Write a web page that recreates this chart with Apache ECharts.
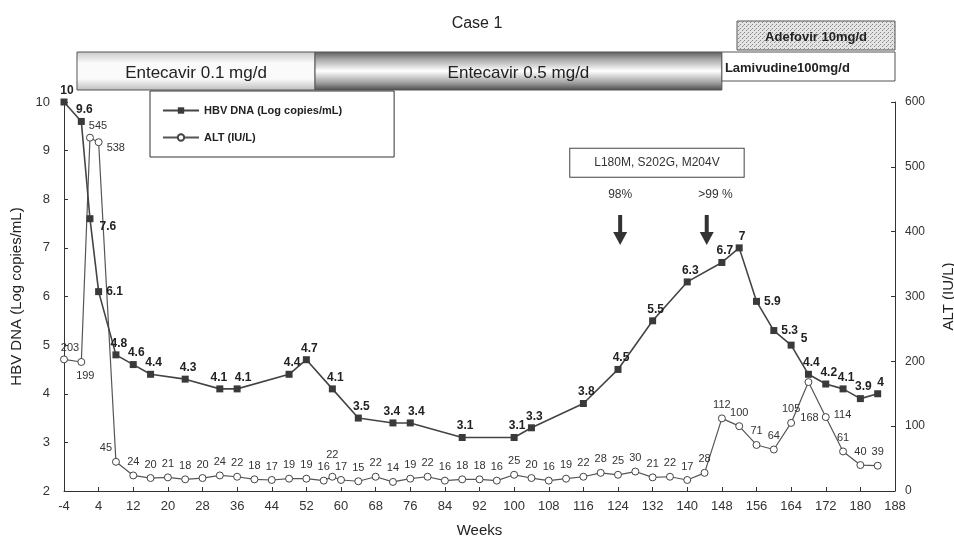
<!DOCTYPE html>
<html><head><meta charset="utf-8">
<script src="https://cdn.jsdelivr.net/npm/echarts@6/dist/echarts.min.js"></script>
<style>html,body{margin:0;padding:0;background:#fff}#c{width:954px;height:541px}</style>
</head><body><div id="c"></div>
<script>
// ---- data ----
const hbvWeeks  = [-4,0,2,4,8,12,16,24,32,36,48,52,58,64,72,76,88,100,104,116,124,132,140,148,152,156,160,164,168,172,176,180,184];
const hbvValues = [10,9.6,7.6,6.1,4.8,4.6,4.4,4.3,4.1,4.1,4.4,4.7,4.1,3.5,3.4,3.4,3.1,3.1,3.3,3.8,4.5,5.5,6.3,6.7,7,5.9,5.3,5,4.4,4.2,4.1,3.9,4];
const altWeeks  = [-4,0,2,4,8,12,16,20,24,28,32,36,40,44,48,52,56,58,60,64,68,72,76,80,84,88,92,96,100,104,108,112,116,120,124,128,132,136,140,144,148,152,156,160,164,168,172,176,180,184];
const altValues = [203,199,545,538,45,24,20,21,18,20,24,22,18,17,19,19,16,22,17,15,22,14,19,22,16,18,18,16,25,20,16,19,22,28,25,30,21,22,17,28,112,100,71,64,105,168,114,61,40,39];
const xTicks = { min: -4, max: 188, step: 8 };
const leftTicks = { min: 2, max: 10, step: 1 };
const rightTicks = { min: 0, max: 600, step: 100 };
const treatNames = ['Entecavir 0.1 mg/d', 'Entecavir 0.5 mg/d', 'Lamivudine100mg/d', 'Adefovir 10mg/d'];
const treatStart = [-1, 54, 148, 151.5];
const treatEnd   = [54, 148, 188, 188];
const mutationText = 'L180M, S202G, M204V';
const arrowWeeks = [124.5, 144.5];
const arrowLabels = ['98%', '>99 %'];
const seriesNames = ['HBV DNA (Log copies/mL)', 'ALT (IU/L)'];

// ---- styles ----
const SANS = "'Liberation Sans',Arial,sans-serif";
const hbvLabelOverrides = {
  2: { position: 'right', offset: [2, 8] },
  3: { position: 'right', offset: [0, 0] },
  8: { position: 'top', offset: [-1, 2] },
  9: { position: 'top', offset: [6, 2] },
  14: { position: 'top', offset: [-1, 2] },
  15: { position: 'top', offset: [6, 2] },
  25: { position: 'right', offset: [0, 0] },
  26: { position: 'right', offset: [0, 0] },
  27: { position: 'right', offset: [2, -6] }
};
const altLabelOverrides = {
  0: { position: 'top', offset: [6, 2] },
  1: { position: 'bottom', offset: [4, 0] },
  2: { position: 'top', offset: [8, 2] },
  3: { position: 'right', offset: [0, 6] },
  4: { position: 'top', offset: [-10, 0] },
  17: { position: 'top', offset: [0, -8] },
  45: { position: 'bottom', offset: [1, 22] },
  46: { position: 'right', offset: [0, -2] }
};

const pc = document.createElement('canvas'); pc.width = 4; pc.height = 4;
const g = pc.getContext('2d');
g.fillStyle = '#e4e4e4'; g.fillRect(0, 0, 4, 4);
g.fillStyle = '#8a8a8a'; g.fillRect(0, 0, 1, 1); g.fillRect(2, 2, 1, 1);
g.fillStyle = '#b0b0b0'; g.fillRect(3, 1, 1, 1);

const treatStyle = [
  { band: [32, 70], fill: { type: 'linear', x: 0, y: 0, x2: 0, y2: 1, colorStops: [
      { offset: 0, color: '#c8c8c8' }, { offset: 0.3, color: '#fafafa' }, { offset: 0.7, color: '#fafafa' }, { offset: 1, color: '#bdbdbd' }] },
    font: '17px ' + SANS, align: 'center' },
  { band: [32, 70], fill: { type: 'linear', x: 0, y: 0, x2: 0, y2: 1, colorStops: [
      { offset: 0, color: '#5a5a5a' }, { offset: 0.2, color: '#a8a8a8' }, { offset: 0.5, color: '#ffffff' }, { offset: 0.8, color: '#a0a0a0' }, { offset: 1, color: '#4a4a4a' }] },
    font: '17px ' + SANS, align: 'center' },
  { band: [32, 61], fill: '#ffffff', font: 'bold 13px ' + SANS, align: 'left' },
  { band: [1, 30], fill: { image: pc, repeat: 'repeat' }, font: 'bold 13px ' + SANS, align: 'center' }
];

function renderTreatment(params, api) {
  const i = params.dataIndex;
  const st = treatStyle[i];
  const p0 = api.coord([api.value(0), st.band[0]]);
  const p1 = api.coord([api.value(1), st.band[1]]);
  const x = p0[0], y = p0[1], w = p1[0] - p0[0], h = p1[1] - p0[1];
  const tx = st.align === 'center' ? x + w / 2 : x + 3;
  return {
    type: 'group',
    children: [
      { type: 'rect', shape: { x: x, y: y, width: w, height: h },
        style: { fill: st.fill, stroke: '#555', lineWidth: 1 } },
      { type: 'text', style: { text: treatNames[i], x: tx, y: y + h / 2 + 2, align: st.align,
        verticalAlign: 'middle', font: st.font, fill: '#222' } }
    ]
  };
}

const arrowPath = 'path://M5,0 L9,0 L9,17 L14,17 L7,30 L0,17 L5,17 Z';
const arrowLevel = 7.37, pctLevel = 8.1, boxLevel = 8.75;

const chart = echarts.init(document.getElementById('c'), null, { renderer: 'canvas' });
const axisLine = { show: true, onZero: false, lineStyle: { color: '#333', width: 1 } };
chart.setOption({
  backgroundColor: '#fff',
  animation: false,
  title: { text: 'Case 1', left: 'center', top: 11,
    textStyle: { fontFamily: SANS, fontSize: 16, fontWeight: 'normal', color: '#222' } },
  legend: {
    data: seriesNames, orient: 'vertical', left: 150, top: 91,
    selectedMode: false, borderColor: '#333', borderWidth: 1, backgroundColor: '#fff',
    padding: [14, 52, 14, 12], itemGap: 16, itemWidth: 36, itemHeight: 8,
    textStyle: { fontFamily: SANS, fontSize: 11, fontWeight: 'bold', color: '#222' }
  },
  grid: [
    { left: 64, right: 59, top: 102, bottom: 50, containLabel: false, outerBoundsMode: 'none' },
    { left: 64, right: 59, top: 20, height: 70, containLabel: false, outerBoundsMode: 'none' }
  ],
  xAxis: [
    { type: 'value', gridIndex: 0, min: xTicks.min, max: xTicks.max, interval: xTicks.step,
      name: 'Weeks', nameLocation: 'middle', nameGap: 32,
      nameTextStyle: { fontFamily: SANS, fontSize: 15, color: '#222' },
      axisLine: axisLine, axisTick: { show: true, inside: true, length: 4, lineStyle: { color: '#333' } },
      axisLabel: { margin: 9, fontFamily: SANS, fontSize: 13, color: '#333', showMinLabel: true, showMaxLabel: true },
      splitLine: { show: false } },
    { type: 'value', gridIndex: 1, min: xTicks.min, max: xTicks.max, show: false }
  ],
  yAxis: [
    { type: 'value', gridIndex: 0, position: 'left', min: leftTicks.min, max: leftTicks.max, interval: leftTicks.step,
      name: seriesNames[0], nameLocation: 'middle', nameGap: 40, nameRotate: 90,
      nameTextStyle: { fontFamily: SANS, fontSize: 15, color: '#222' },
      axisLine: axisLine, axisTick: { show: true, inside: true, length: 4, lineStyle: { color: '#333' } },
      axisLabel: { margin: 14, fontFamily: SANS, fontSize: 13, color: '#333' },
      splitLine: { show: false } },
    { type: 'value', gridIndex: 0, position: 'right', min: rightTicks.min, max: rightTicks.max, interval: rightTicks.step,
      name: 'ALT (IU/L)', nameLocation: 'middle', nameGap: 46, nameRotate: 90,
      nameTextStyle: { fontFamily: SANS, fontSize: 15, color: '#222' },
      axisLine: axisLine, axisTick: { show: true, inside: true, length: 4, lineStyle: { color: '#333' } },
      axisLabel: { margin: 10, fontFamily: SANS, fontSize: 12, color: '#333' },
      splitLine: { show: false } },
    { type: 'value', gridIndex: 1, min: 0, max: 70, inverse: true, show: false }
  ],
  series: [
    {
      name: seriesNames[1], type: 'line', xAxisIndex: 0, yAxisIndex: 1, z: 2,
      data: altWeeks.map((w, i) => {
        const item = { value: [w, altValues[i]] };
        if (altLabelOverrides[i]) item.label = altLabelOverrides[i];
        return item;
      }),
      symbol: 'circle', symbolSize: 7,
      itemStyle: { color: '#fff', borderColor: '#444', borderWidth: 1 },
      lineStyle: { color: '#555', width: 1.2 },
      label: { show: true, position: 'top', distance: 4, formatter: p => p.value[1],
        fontFamily: SANS, fontSize: 11, color: '#333' }
    },
    {
      name: seriesNames[0], type: 'line', xAxisIndex: 0, yAxisIndex: 0, z: 3,
      data: hbvWeeks.map((w, i) => {
        const item = { value: [w, hbvValues[i]] };
        if (hbvLabelOverrides[i]) item.label = hbvLabelOverrides[i];
        return item;
      }),
      symbol: 'rect', symbolSize: 7,
      itemStyle: { color: '#3a3a3a' },
      lineStyle: { color: '#444', width: 1.6 },
      label: { show: true, position: 'top', distance: 4, offset: [3, 2], formatter: p => p.value[1],
        fontFamily: SANS, fontSize: 12, fontWeight: 'bold', color: '#222' },
      markPoint: {
        silent: true,
        data: [
          ...arrowWeeks.map(w => ({ coord: [w, arrowLevel], symbol: arrowPath, symbolSize: [14, 30],
            symbolKeepAspect: false, itemStyle: { color: '#333' }, label: { show: false } })),
          ...arrowWeeks.map((w, i) => ({ coord: [w + (i ? 2 : 0), pctLevel], symbol: 'rect', symbolSize: 0,
            label: { show: true, position: 'inside', formatter: arrowLabels[i], fontFamily: SANS, fontSize: 12, color: '#333' } })),
          { coord: [(arrowWeeks[0] + arrowWeeks[1]) / 2 - 1.5, boxLevel], symbol: 'rect', symbolSize: 0,
            label: { show: true, position: 'inside', formatter: mutationText, fontFamily: SANS, fontSize: 12,
              color: '#333', backgroundColor: '#fff', borderColor: '#444', borderWidth: 1, padding: [8, 24] } }
        ]
      }
    },
    {
      type: 'custom', xAxisIndex: 1, yAxisIndex: 2, silent: true,
      renderItem: renderTreatment,
      data: treatStart.map((s, i) => [s, treatEnd[i], i]),
      encode: { x: [0, 1], y: 2 }
    }
  ]
});
</script>
</body></html>
